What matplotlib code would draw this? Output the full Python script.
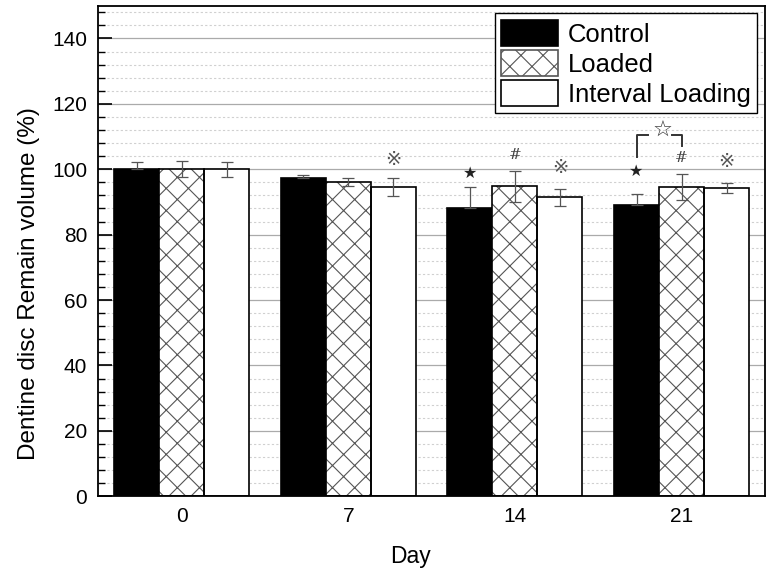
import numpy as np
import matplotlib
matplotlib.use("Agg")
import matplotlib.pyplot as plt
from matplotlib.ticker import MultipleLocator
from matplotlib.patches import Patch

plt.rcParams['font.family'] = ['Liberation Sans', 'DejaVu Sans']

days = ["0", "7", "14", "21"]
series = ["Control", "Loaded", "Interval Loading"]
control = [100.0, 97.2, 88.0, 89.1]
control_err = [2.2, 1.0, 6.5, 3.3]
loaded = [100.0, 96.1, 94.8, 94.6]
loaded_err = [2.5, 1.2, 4.8, 4.1]
interval = [100.0, 94.6, 91.4, 94.3]
interval_err = [2.3, 2.8, 2.7, 1.6]

# significance marks: (day index, series index, symbol, y)
marks = [(1, 2, "\u203b", 103.0),
         (2, 0, "*", 98.8), (2, 1, "#", 104.3), (2, 2, "\u203b", 100.5),
         (3, 0, "*", 99.3), (3, 1, "#", 103.3), (3, 2, "\u203b", 102.3)]

# higher dpi so that the 'xx' hatch gets the coarser diamond size of the original
DPI = 133.33
k = 100 / DPI  # sizes below are given as if at 100 dpi
plt.rcParams['hatch.linewidth'] = 0.8 * k

x = np.arange(len(days))
w = 0.27

fig = plt.figure(figsize=(768 / DPI, 577 / DPI), dpi=DPI)
ax = fig.add_axes([0.128, 0.140, 0.868, 0.850])

# grid
ax.yaxis.set_major_locator(MultipleLocator(20))
ax.yaxis.set_minor_locator(MultipleLocator(4))
ax.grid(which="major", axis="y", color="#aaaaaa", lw=0.9 * k, zorder=0)
ax.grid(which="minor", axis="y", color="#d0d0d0", lw=0.8 * k, ls=(0, (2, 2)), zorder=0)
ax.set_axisbelow(True)

ax.bar(x - w, control, w, color="black", edgecolor="black", lw=1.2 * k, zorder=2)
ax.bar(x, loaded, w, color="white", edgecolor="#555555", hatch="xx", lw=0, zorder=2)
ax.bar(x, loaded, w, fill=False, edgecolor="black", lw=1.2 * k, zorder=2.1)
ax.bar(x + w, interval, w, color="white", edgecolor="black", lw=1.2 * k, zorder=2)

ekw = dict(fmt="none", ecolor="#555555", elinewidth=0.9 * k, capsize=4 * k,
           capthick=0.9 * k, zorder=3)
ax.errorbar(x - w, control, yerr=[np.zeros(4), control_err], **ekw)
ax.errorbar(x, loaded, yerr=loaded_err, **ekw)
ax.errorbar(x + w, interval, yerr=interval_err, **ekw)

offs = [-w, 0, w]
for d, s, sym, yy in marks:
    if sym == "*":
        ax.text(x[d] + offs[s], yy, "\u2605", ha="center", va="center", fontsize=11.5 * k,
                color="#222222", family=["DejaVu Sans"])
    elif sym == "#":
        ax.text(x[d] + offs[s], yy, sym, ha="center", va="center", fontsize=11 * k,
                color="#444444", family=["DejaVu Serif"])
    else:
        ax.text(x[d] + offs[s], yy, sym, ha="center", va="center", fontsize=14 * k,
                color="#555555", family=["DejaVu Sans"])

# bracket between control and loaded at day 21
bx0, bx1 = x[3] - w, x[3]
ax.plot([bx0, bx0, bx0 + 0.07], [103.8, 110.6, 110.6], color="#333333", lw=1.4 * k, zorder=3)
ax.plot([bx1 - 0.06, bx1, bx1], [110.6, 110.6, 107.0], color="#333333", lw=1.4 * k, zorder=3)
ax.text((bx0 + bx1) / 2 + 0.02, 111.6, "\u2606", ha="center", va="center", fontsize=16 * k,
        color="#333333", family=["DejaVu Sans"])

ax.set_xlim(-0.5, 3.5)
ax.set_ylim(0, 150)
ax.set_xticks(x)
ax.set_xticklabels(days)
ax.set_yticks([0, 20, 40, 60, 80, 100, 120, 140])
ax.tick_params(axis="both", which="major", direction="in", length=10 * k, width=1.2 * k,
               labelsize=15 * k, pad=8 * k)
ax.tick_params(axis="y", which="minor", direction="in", length=5 * k, width=1.0 * k)
ax.tick_params(axis="x", which="minor", bottom=False)
for sp in ax.spines.values():
    sp.set_linewidth(1.3 * k)

ax.set_xlabel("Day", fontsize=16.5 * k)
ax.set_ylabel("Dentine disc Remain volume (%)", fontsize=17.5 * k)
ax.xaxis.set_label_coords(0.469, -0.10)
ax.yaxis.set_label_coords(-0.087, 0.433)

handles = [Patch(facecolor="black", edgecolor="black", lw=1.2 * k),
           Patch(facecolor="white", edgecolor="#555555", hatch="xx", lw=1.2 * k),
           Patch(facecolor="white", edgecolor="black", lw=1.2 * k)]
leg = ax.legend(handles, series, loc="upper right", fontsize=18.5 * k, frameon=True,
                fancybox=False, edgecolor="black", framealpha=1, handlelength=2.2,
                handleheight=1.2, borderaxespad=0.3, labelspacing=0.12,
                handletextpad=0.4, borderpad=0.25)
leg.get_frame().set_linewidth(1.0 * k)

fig.savefig("out.png", dpi=DPI)
